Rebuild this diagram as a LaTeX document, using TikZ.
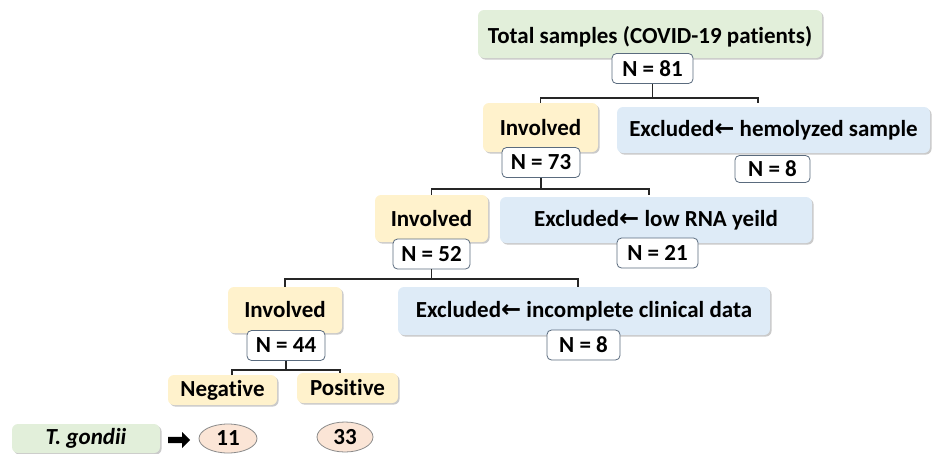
\documentclass[tikz,border=0pt]{standalone}
\usepackage{fontspec}
\setmainfont{Carlito}[Ligatures=NoCommon]
\newfontfamily\symfont{DejaVu Sans}
\usetikzlibrary{shadows,shapes.geometric,shapes.arrows}
\definecolor{gfill}{HTML}{E2EFDA}
\definecolor{yfill}{HTML}{FFF2CC}
\definecolor{bfill}{HTML}{DEEBF7}
\definecolor{pfill}{HTML}{FBE5D6}
\definecolor{nline}{HTML}{5A6B7E}
\definecolor{eline}{HTML}{8A8A8A}
\newcommand{\la}{{\symfont\fontsize{24}{26}\selectfont ←}}
\tikzset{
  txt/.style={font=\fontsize{23}{26}\selectfont\bfseries, text=black},
  cbox/.style={txt, rounded corners=6pt, inner sep=0pt,
     drop shadow={shadow xshift=1.6pt, shadow yshift=-1.6pt, opacity=0.35, fill=black!60}},
  gbox/.style={cbox, fill=gfill},
  ybox/.style={cbox, fill=yfill},
  bbox/.style={cbox, fill=bfill},
  nbox/.style={txt, draw=nline, line width=0.8pt, fill=white, rounded corners=4.5pt,
     minimum height=30pt, inner xsep=6pt, inner ysep=0pt},
  oval/.style={txt, ellipse, draw=eline, line width=0.8pt, fill=pfill, inner sep=0pt},
  conn/.style={draw=black!85, line width=1.1pt},
}
\begin{document}
\begin{tikzpicture}[x=1pt,y=-1pt]
\useasboundingbox (0,0) rectangle (933,453);
% level 0
\node[gbox, minimum width=344pt, minimum height=48pt, text depth=2pt] (tot) at (650,34) {\raisebox{-4pt}{Total samples (COVID-19 patients)}};
\node[nbox, minimum width=81pt] (n81) at (652.5,68.5) {N = 81};
% level 1
\node[ybox, minimum width=115pt, minimum height=49pt] (inv1) at (540.5,127.5) {Involved};
\node[bbox, minimum width=313pt, minimum height=46pt] (ex1) at (773.5,130) {Excluded\la{} hemolyzed sample};
\node[nbox, minimum width=78pt] (n73) at (541,162.5) {N = 73};
\node[nbox, minimum width=75pt, minimum height=27pt] (n8a) at (772.5,169) {N = 8};
% level 2
\node[ybox, minimum width=113pt, minimum height=47pt] (inv2) at (431.5,218.5) {Involved};
\node[bbox, minimum width=312pt, minimum height=46pt] (ex2) at (656,220) {Excluded\la{} low RNA yeild};
\node[nbox, minimum width=77pt] (n52) at (431.5,254) {N = 52};
\node[nbox, minimum width=81pt] (n21) at (657.5,253) {N = 21};
% level 3
\node[ybox, minimum width=114pt, minimum height=46pt] (inv3) at (285,310) {Involved};
\node[bbox, minimum width=372pt, minimum height=48pt] (ex3) at (584,311) {Excluded\la{} incomplete clinical data};
\node[nbox, minimum width=78pt] (n44) at (286,345.5) {N = 44};
\node[nbox, minimum width=73pt] (n8b) at (583.5,345) {N = 8};
% level 4
\node[ybox, minimum width=109pt, minimum height=30pt] (neg) at (222.5,390) {Negative};
\node[ybox, minimum width=101pt, minimum height=30pt] (pos) at (347.5,388) {Positive};
% bottom row
\node[gbox, minimum width=148pt, minimum height=29pt, drop shadow={opacity=0}] (tg) at (86,438.5) {\itshape T. gondii};
\node[single arrow, fill=black, minimum height=22pt, minimum width=16pt, single arrow head extend=3.5pt, inner sep=2pt] (arr) at (177.5,440) {};
\node[oval, minimum width=58pt, minimum height=29pt] (e11) at (228,438.5) {11};
\node[oval, minimum width=56pt, minimum height=30pt] (e33) at (345,437) {33};
% connectors
\coordinate (b1) at (652.5,98);
\coordinate (d1) at (758,103);
\draw[conn] (n81.south) -- (b1);
\draw[conn] (inv1.north) |- (b1) -| (d1);
\coordinate (b2) at (541,189);
\coordinate (d2) at (649,195);
\draw[conn] (n73.south) -- (b2);
\draw[conn] (inv2.north) |- (b2) -| (d2);
\coordinate (b3) at (431.5,279);
\coordinate (d3) at (578,287);
\draw[conn] (n52.south) -- (b3);
\draw[conn] (inv3.north) |- (b3) -| (d3);
\coordinate (b4) at (286,370);
\coordinate (d4a) at (232,375);
\coordinate (d4b) at (340,373);
\draw[conn] (n44.south) -- (b4);
\draw[conn] (d4a) |- (b4) -| (d4b);
\end{tikzpicture}
\end{document}
